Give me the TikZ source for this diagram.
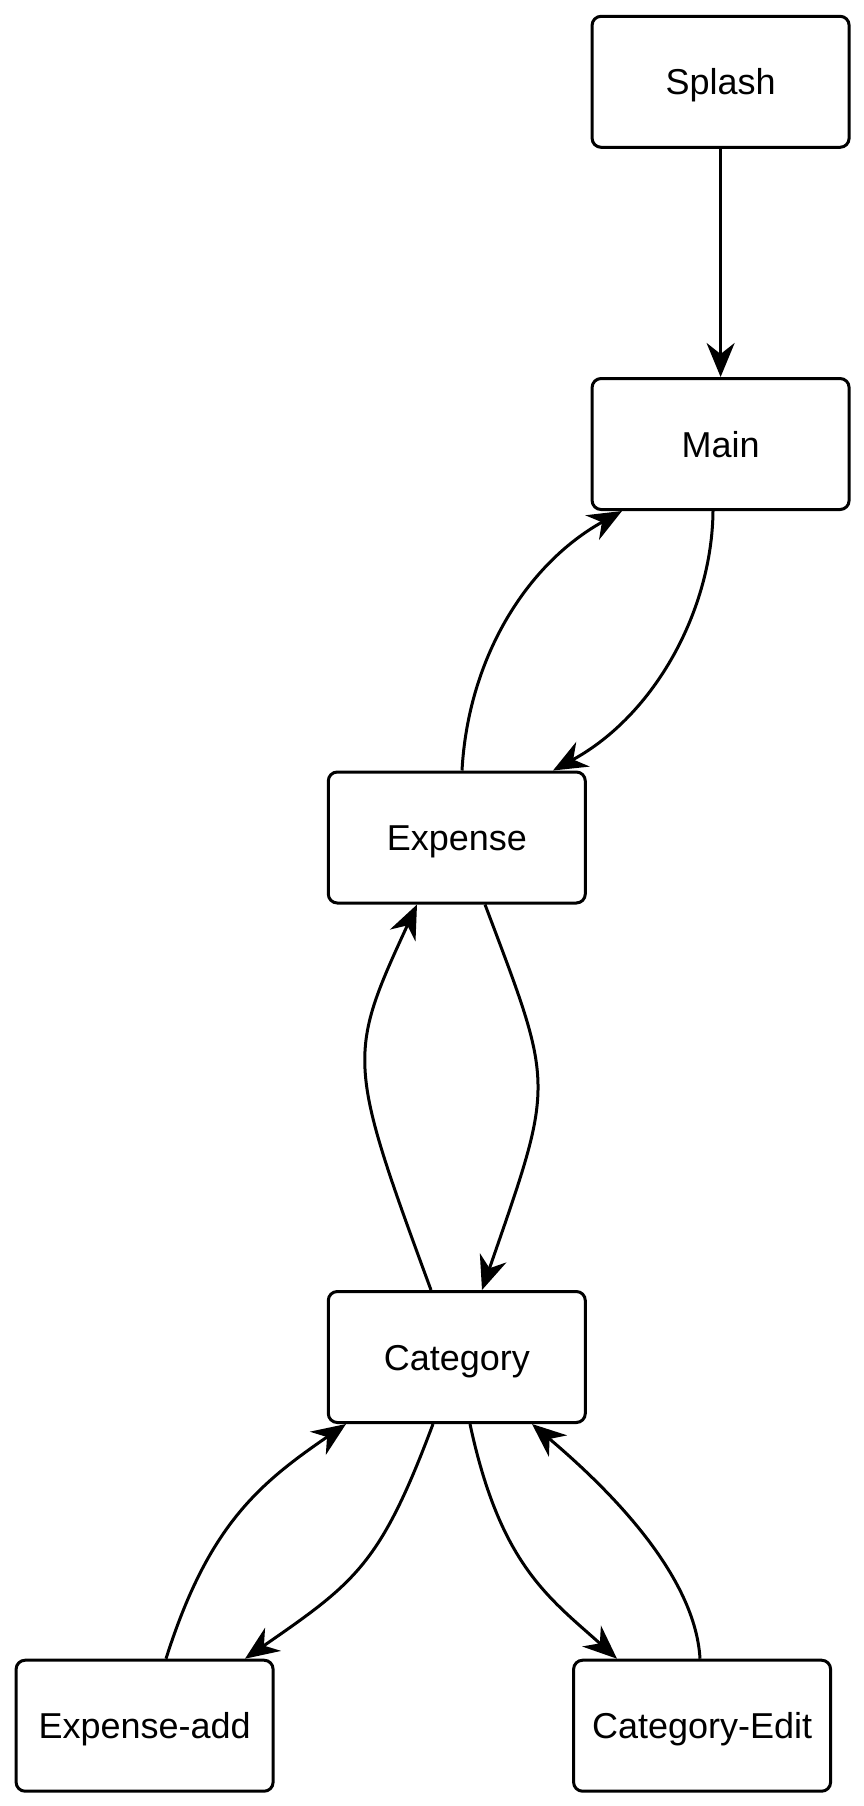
\documentclass[tikz,border=0pt]{standalone}
\usepackage{fontspec}
\setmainfont{Liberation Sans}
\usetikzlibrary{arrows.meta,calc}
\begin{document}
\begin{tikzpicture}[x=1pt,y=-1pt,
  screen/.style={draw=black,line width=3pt,rounded corners=9pt,fill=white,
    minimum width=257pt,minimum height=131pt,inner sep=0pt,
    text height=26pt,text depth=0pt,
    font=\fontsize{36}{42}\selectfont},
  edge/.style={draw=black,line width=3pt,
    -{Stealth[length=34pt,width=28pt,inset=11pt]}}]
\useasboundingbox (0,0) rectangle (864,1806);
\node[screen] (splash) at (720.6,81.8) {Splash};
\node[screen] (main) at (720.6,444) {Main};
\node[screen] (exp) at (456.8,837.5) {Expense};
\node[screen] (cat) at (456.8,1357) {Category};
\node[screen] (ea) at (144.6,1725.7) {Expense-add};
\node[screen] (ce) at (702.1,1725.7) {Category-Edit};
% Splash -> Main
\draw[edge] (splash.south) -- (main.north);
% Expense -> Main
\draw[edge] ($(exp.north)+(5.2,0)$) .. controls (468,660) and (525,565) .. ($(main.south)+(-98.6,0)$);
% Main -> Expense
\draw[edge] ($(main.south)+(-7.6,0)$) .. controls (712,610) and (655,715) .. ($(exp.north)+(96.2,0)$);
% Category -> Expense
\draw[edge] ($(cat.north)+(-25.8,0)$) .. controls (347,1062) and (347,1056) .. ($(exp.south)+(-39.8,0)$);
% Expense -> Category
\draw[edge] ($(exp.south)+(28.2,0)$) .. controls (555,1090) and (555,1079) .. ($(cat.north)+(25.2,0)$);
% Expense-add -> Category
\draw[edge] ($(ea.north)+(21.4,0)$) .. controls (208,1526) and (258.5,1484) .. ($(cat.south)+(-110.8,0)$);
% Category -> Expense-add
\draw[edge] ($(cat.south)+(-23.8,0)$) .. controls (380.5,1564) and (356,1582) .. ($(ea.north)+(100.4,0)$);
% Category -> Category-Edit
\draw[edge] ($(cat.south)+(13.2,0)$) .. controls (500,1564) and (548,1597) .. ($(ce.north)+(-85.1,0)$);
% Category-Edit -> Category
\draw[edge] ($(ce.north)+(-2.1,0)$) .. controls (695,1570) and (598,1480) .. ($(cat.south)+(75.2,0)$);
\end{tikzpicture}
\end{document}
